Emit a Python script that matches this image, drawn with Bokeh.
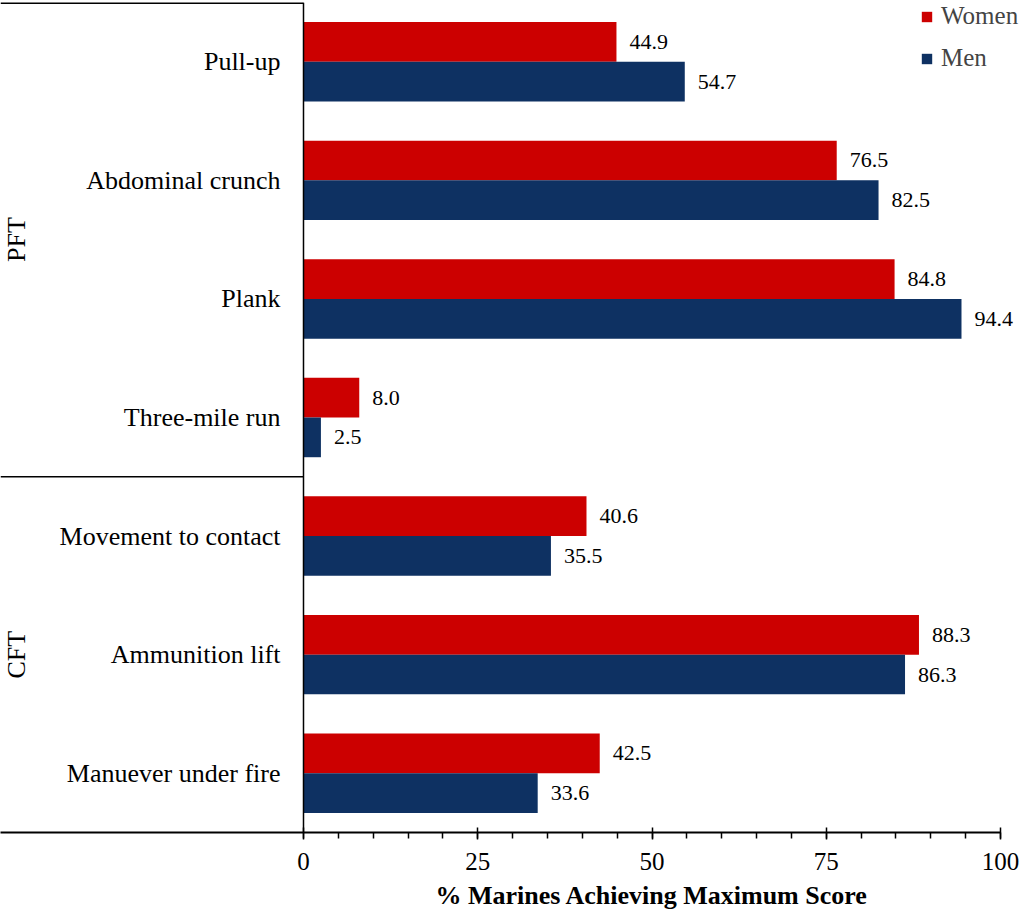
import numpy as np
from bokeh.plotting import figure
from bokeh.models import (ColumnDataSource, FactorRange, Range1d, LinearAxis, FixedTicker,
                          Legend, LegendItem, Span, Title)
from bokeh.transform import dodge
from bokeh.core.properties import value
from bokeh.embed import file_html
from bokeh.resources import INLINE

# ---- data ----
groups = ["PFT", "PFT", "PFT", "PFT", "CFT", "CFT", "CFT"]
categories = ["Pull-up", "Abdominal crunch", "Plank", "Three-mile run",
              "Movement to contact", "Ammunition lift", "Manuever under fire"]
women = [44.9, 76.5, 84.8, 8.0, 40.6, 88.3, 42.5]
men = [54.7, 82.5, 94.4, 2.5, 35.5, 86.3, 33.6]
series_names = ["Women", "Men"]
x_ticks = [0, 25, 50, 75, 100]
x_minor = list(range(0, 101, 5))
x_label = "% Marines Achieving Maximum Score"

# ---- style ----
RED = "#cc0000"
NAVY = "#0e3162"
FONT = "Liberation Serif"
W, H = 1024, 915
X_START, X_END = -43.47, 103.44
BAR_H = 0.335

factors = [(g, c) for g, c in zip(groups, categories)][::-1]
yr = FactorRange(factors=factors, factor_padding=0, group_padding=0,
                 subgroup_padding=0, range_padding=0)

p = figure(width=W, height=H, y_range=yr, x_range=Range1d(X_START, X_END),
           x_axis_location=None, y_axis_location=None,
           toolbar_location=None, output_backend="svg",
           min_border_left=0, min_border_right=0, min_border_top=2,
           min_border_bottom=83)
p.outline_line_color = None
p.background_fill_color = "white"
p.border_fill_color = "white"
p.grid.visible = False

src = ColumnDataSource(dict(
    cat=[(g, c) for g, c in zip(groups, categories)],
    name=categories,
    women=women, men=men,
    wlab=["%.1f" % v for v in women],
    mlab=["%.1f" % v for v in men],
))

rw = p.hbar(y=dodge("cat", BAR_H / 2, range=yr), right="women", left=0, height=BAR_H,
            source=src, fill_color=RED, line_color=None)
rm = p.hbar(y=dodge("cat", -BAR_H / 2, range=yr), right="men", left=0, height=BAR_H,
            source=src, fill_color=NAVY, line_color=None)

p.text(x="women", y=dodge("cat", BAR_H / 2, range=yr), text="wlab", source=src,
       x_offset=13, text_align="left", text_baseline="middle",
       text_font=value(FONT), text_font_size=value("22px"), text_color="black")
p.text(x="men", y=dodge("cat", -BAR_H / 2, range=yr), text="mlab", source=src,
       x_offset=13, text_align="left", text_baseline="middle",
       text_font=value(FONT), text_font_size=value("22px"), text_color="black")

# category labels
p.text(x=0, y="cat", text="name", source=src, x_offset=-23,
       text_align="right", text_baseline="middle",
       text_font=value(FONT), text_font_size=value("26px"), text_color="black")

# group labels
ugroups = list(dict.fromkeys(groups))
gsrc = ColumnDataSource(dict(g=ugroups))
p.text(x=X_START, y="g", text="g", source=gsrc, x_offset=16, angle=np.pi / 2,
       text_align="center", text_baseline="middle",
       text_font=value(FONT), text_font_size=value("26px"), text_color="black")

# box lines on the left
n_all = len(categories)
n_bottom_group = groups.count(ugroups[-1])
p.segment(x0=[X_START, X_START], x1=[0, 0], y0=[n_all, n_bottom_group],
          y1=[n_all, n_bottom_group], line_color="black", line_width=[3, 1.5])
p.add_layout(Span(location=0, dimension="height", line_color="black", line_width=1.5))

# x axis
xaxis = LinearAxis(ticker=FixedTicker(ticks=x_ticks, minor_ticks=x_minor),
                   bounds=(X_START, x_ticks[-1]),
                   axis_line_color="black", axis_line_width=2,
                   major_tick_in=5, major_tick_out=7, minor_tick_in=0, minor_tick_out=6,
                   major_tick_line_width=1.5, minor_tick_line_width=1.5,
                   major_tick_line_color="black", minor_tick_line_color="black",
                   major_label_text_font=FONT, major_label_text_font_size="25px",
                   major_label_text_color="black", major_label_standoff=13)
p.add_layout(xaxis, "below")

# axis title, centred under the 0..100 span
title = Title(text=x_label, align="left", offset=435,
              text_font=FONT, text_font_style="bold", text_font_size="26px",
              text_color="black", standoff=12)
p.add_layout(title, "below")

legend = Legend(items=[LegendItem(label=series_names[0], renderers=[rw]),
                       LegendItem(label=series_names[1], renderers=[rm])],
                location="top_right", orientation="vertical",
                glyph_width=13, glyph_height=13, label_standoff=8, label_width=83,
                label_text_font=FONT, label_text_font_size="25px",
                padding=0, spacing=14, margin=0,
                border_line_alpha=0, background_fill_alpha=0)
p.add_layout(legend)

open("out.html", "w").write(file_html(p, INLINE))
